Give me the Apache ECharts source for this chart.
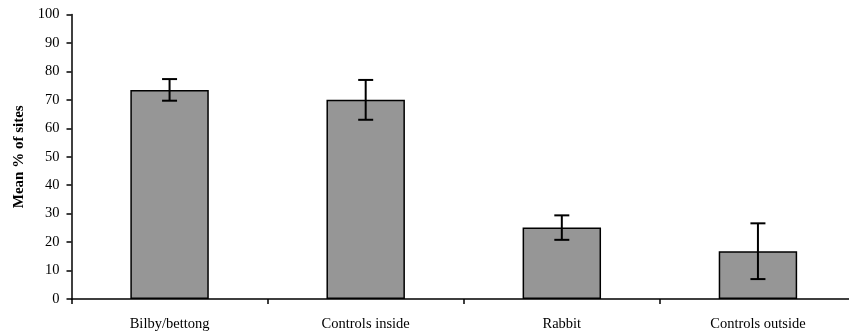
<!DOCTYPE html>
<html><head><meta charset="utf-8">
<script src="https://cdn.jsdelivr.net/npm/echarts@6/dist/echarts.min.js"></script>
<style>html,body{margin:0;padding:0;background:#fff;overflow:hidden}#c{width:860px;height:335px}</style>
</head><body><div id="c"></div>
<script>
const categories = ['Bilby/bettong', 'Controls inside', 'Rabbit', 'Controls outside'];
const means = [73.5, 70.0, 25.1, 16.8];
const errors = [3.8, 7.0, 4.3, 9.8];
const yTicks = [0, 10, 20, 30, 40, 50, 60, 70, 80, 90, 100];

const chart = echarts.init(document.getElementById('c'), null, {renderer: 'canvas'});
const font = 'Liberation Serif';
chart.setOption({
  animation: false,
  grid: {left: 71.5, top: 14.5, width: 784.5, height: 284.5, containLabel: false},
  xAxis: {
    type: 'category', data: categories,
    axisLine: {lineStyle: {color: '#000', width: 1.5}},
    axisTick: {show: true, alignWithLabel: false, length: 5, lineStyle: {color: '#000', width: 1.5}},
    axisLabel: {color: '#000', fontFamily: font, fontSize: 14.5, margin: 18}
  },
  yAxis: {
    type: 'value', min: yTicks[0], max: yTicks[yTicks.length - 1], interval: 10,
    name: 'Mean % of sites', nameLocation: 'middle', nameGap: 45, nameRotate: 90,
    nameTextStyle: {color: '#000', fontFamily: font, fontSize: 15, fontWeight: 'bold'},
    axisLine: {show: true, lineStyle: {color: '#000', width: 1.5}},
    axisTick: {show: true, length: 5, lineStyle: {color: '#000', width: 1.5}},
    axisLabel: {color: '#000', fontFamily: font, fontSize: 14.5, margin: 12},
    splitLine: {show: false}
  },
  series: [
    {
      type: 'bar', data: means, barWidth: '40%',
      itemStyle: {color: '#969696', borderColor: '#000', borderWidth: 1.5}
    },
    {
      type: 'custom',
      data: means.map((m, i) => [i, m - errors[i], m + errors[i]]),
      renderItem: function (params, api) {
        const x = api.coord([api.value(0), 0])[0];
        const lo = api.coord([api.value(0), api.value(1)])[1];
        const hi = api.coord([api.value(0), api.value(2)])[1];
        const hw = 7.5;
        const st = {stroke: '#000', lineWidth: 2};
        return {type: 'group', children: [
          {type: 'line', shape: {x1: x, y1: lo, x2: x, y2: hi}, style: st},
          {type: 'line', shape: {x1: x - hw, y1: lo, x2: x + hw, y2: lo}, style: st},
          {type: 'line', shape: {x1: x - hw, y1: hi, x2: x + hw, y2: hi}, style: st}
        ]};
      },
      z: 10
    }
  ]
});
</script></body></html>
